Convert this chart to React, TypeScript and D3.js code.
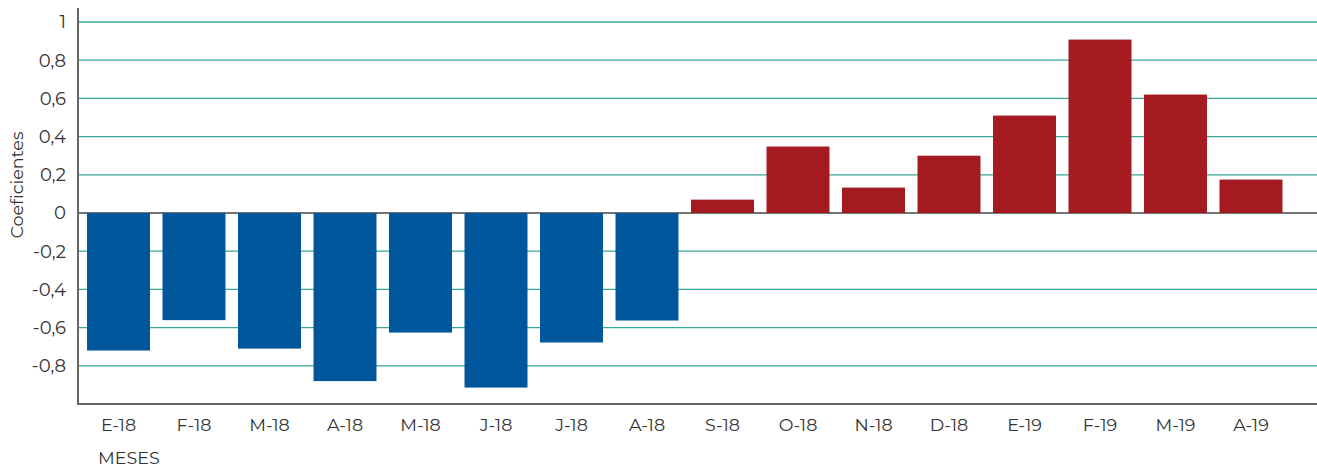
import React from "react";
import * as d3 from "d3";

const months = [
  "E-18", "F-18", "M-18", "A-18", "M-18", "J-18", "J-18", "A-18",
  "S-18", "O-18", "N-18", "D-18", "E-19", "F-19", "M-19", "A-19",
];
const values = [
  -0.72, -0.561, -0.71, -0.88, -0.626, -0.914, -0.678, -0.563,
  0.07, 0.348, 0.133, 0.3, 0.51, 0.908, 0.62, 0.175,
];
const yTicks = [1, 0.8, 0.6, 0.4, 0.2, 0, -0.2, -0.4, -0.6, -0.8];

const W = 1317;
const H = 467;
const axisX = 78;
const plotRight = 1317;

const App: React.FC = () => {
  const x = d3
    .scaleBand<number>()
    .domain(d3.range(months.length))
    .range([80.75, 1288.75])
    .paddingInner(0.166)
    .paddingOuter(0.083);
  const y = d3.scaleLinear().domain([-1, 1]).range([404, 22]);
  const fmt = (v: number) => (v === 0 ? "0" : String(v).replace(".", ","));
  const font = "'Montserrat', 'Noto Sans', 'Open Sans', sans-serif";

  return (
    <svg
      width={W}
      height={H}
      style={{ position: "absolute", left: 0, top: 0, fontFamily: font }}
    >
      {/* gridlines */}
      {yTicks
        .filter((t) => t !== 0)
        .map((t) => (
          <line
            key={"g" + t}
            x1={axisX}
            x2={plotRight}
            y1={y(t)}
            y2={y(t)}
            stroke="#3aa697"
            strokeWidth={1.3}
          />
        ))}
      {/* zero line */}
      <line x1={axisX} x2={plotRight} y1={y(0)} y2={y(0)} stroke="#444" strokeWidth={1.3} />
      {/* bars */}
      {values.map((v, i) => (
        <rect
          key={i}
          x={x(i)}
          width={x.bandwidth()}
          y={y(Math.max(0, v))}
          height={Math.abs(y(v) - y(0))}
          fill={v < 0 ? "#00569b" : "#a51920"}
        />
      ))}
      {/* axes */}
      <line x1={axisX} x2={axisX} y1={8} y2={y(-1)} stroke="#666" strokeWidth={2} />
      <line x1={axisX - 1} x2={plotRight} y1={y(-1)} y2={y(-1)} stroke="#666" strokeWidth={2} />
      {yTicks.map((t) => (
        <text
          key={"t" + t}
          x={66}
          y={y(t)}
          dy="0.35em"
          textAnchor="end"
          fontSize={18}
          fill="#333"
        >
          {fmt(t)}
        </text>
      ))}
      {months.map((m, i) => (
        <text
          key={"m" + i}
          x={(x(i) as number) + x.bandwidth() / 2}
          y={431}
          textAnchor="middle"
          fontSize={17.5}
          fill="#333"
        >
          {m}
        </text>
      ))}
      <text
        transform={`translate(23,${185}) rotate(-90)`}
        textAnchor="middle"
        fontSize={17.5}
        fill="#333"
      >
        Coeficientes
      </text>
      <text x={98} y={464} fontSize={17.5} fill="#333">
        MESES
      </text>
    </svg>
  );
};

export default App;
